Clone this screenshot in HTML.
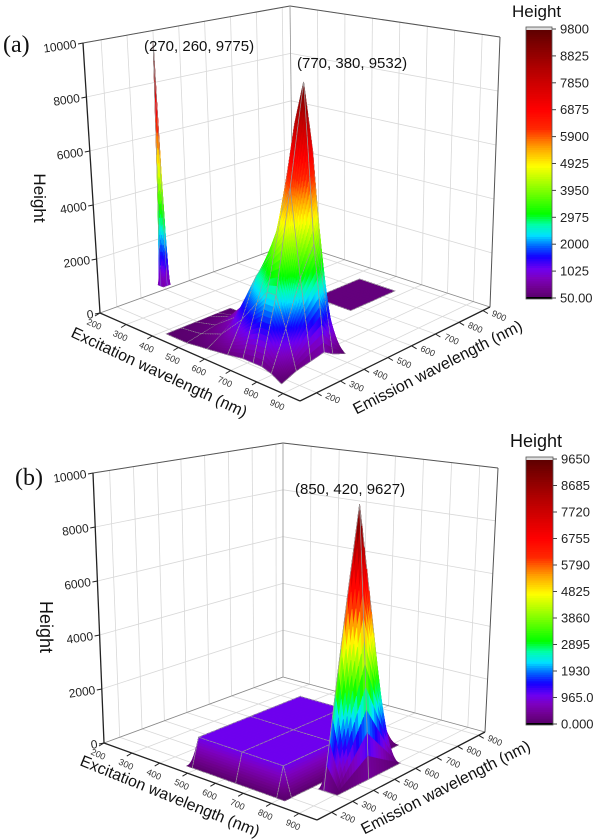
<!DOCTYPE html>
<html><head><meta charset="utf-8">
<style>
html,body{margin:0;padding:0;background:#fff;}
svg{display:block;font-family:"Liberation Sans",sans-serif;}
</style></head>
<body>
<svg id="chart" width="607" height="840" viewBox="0 0 607 840" xmlns="http://www.w3.org/2000/svg"></svg>
<script>
// ---- data ----
const exTicks=[200,300,400,500,600,700,800,900];
const emTicks=[200,300,400,500,600,700,800,900];
const hTicks=[0,2000,4000,6000,8000,10000];
const cbTicksA=["9800","8825","7850","6875","5900","4925","3950","2975","2000","1025","50.00"];
const cbTicksB=["9650","8685","7720","6755","5790","4825","3860","2895","1930","965.0","0.000"];
// panel (a) surfaces
const spikeAEx=[231,241,251];
const spikeAEm=[340,355,369];
const spikeAZ=[[500,500,500],[500,9775,500],[500,500,500]];
const peakAEx=[416,494,573,651,710,749,782,818,857];
const peakAEm=[171,233,294,350,386,438];
const peakAZ=[
 [0,0,0,0,0,0],
 [0,100,200,300,200,0],
 [100,400,800,1200,600,100],
 [200,1200,2500,3000,1500,300],
 [300,2000,3500,5000,3000,500],
 [300,2500,5000,8000,6500,800],
 [300,2500,6000,9532,7000,800],
 [200,1500,3000,4000,2500,300],
 [0,200,300,400,200,0]];
const patchAEx=[553,690];
const patchAEm=[643,828];
const patchAZ=[[150,150],[150,150]];
// panel (b) surfaces
const peakBEx=[838,857,906];
const peakBEm=[304,452,602];
const peakBZ=[[0,0,0],[0,9627,0],[0,0,0]];
const plateauBEx=[465,485,641,789,818];
const plateauBEm=[171,202,438,664,705];
const plateauBZ=[
 [0,0,0,0,0],
 [0,1000,1000,1000,0],
 [0,1000,1000,1000,0],
 [0,1000,1000,1000,0],
 [0,0,0,0,0]];

const NS="http://www.w3.org/2000/svg";
const svg=document.getElementById('chart');
function el(tag,attrs,parent,text){const e=document.createElementNS(NS,tag);for(const k in attrs)e.setAttribute(k,attrs[k]);if(text!==undefined)e.textContent=text;(parent||svg).appendChild(e);return e;}

const stopsT=[0,0.03,0.07,0.105,0.15,0.19,0.23,0.27,0.31,0.40,0.49,0.56,0.63,0.70,0.85,1];
const stopsC=[[90,0,110],[110,0,140],[125,0,190],[110,0,240],[20,0,255],[0,100,255],[0,225,255],[0,255,170],[0,255,0],[130,255,0],[255,255,0],[255,160,0],[255,40,0],[255,0,0],[180,0,0],[95,0,0]];
function cmap(t){t=Math.max(0,Math.min(1,t));for(let i=1;i<stopsT.length;i++){if(t<=stopsT[i]){const f=(t-stopsT[i-1])/(stopsT[i]-stopsT[i-1]);const a=stopsC[i-1],b=stopsC[i];return 'rgb('+a.map((v,j)=>Math.round(v+(b[j]-v)*f)).join(',')+')';}}return 'rgb(95,0,0)';}

function makePanel(c){
 const g=el('g',{});
 
 
 const exMin=200,exMax=965,emMin=130,emMax=930;
 function P(ex,em,h){
  const u=(ex-exMin)/(exMax-exMin),v=(em-emMin)/(emMax-emMin);
  const w=[(1-u)*(1-v),u*(1-v),u*v,(1-u)*v];
  const pts=[c.L,c.F,c.R,c.B],vs=[c.VL,c.VF,c.VR,c.VB];
  let x=0,y=0,vx=0,vy=0;
  for(let i=0;i<4;i++){x+=w[i]*pts[i][0];y+=w[i]*pts[i][1];vx+=w[i]*vs[i][0];vy+=w[i]*vs[i][1];}
  return [x+vx*h/10000,y+vy*h/10000];
 }
 const line=(a,b,st,sw,nm)=>{const l=el('line',{x1:a[0].toFixed(1),y1:a[1].toFixed(1),x2:b[0].toFixed(1),y2:b[1].toFixed(1),stroke:st,'stroke-width':sw},g);return l;};
 const wl=el('polygon',{points:[P(exMin,emMin,0),P(exMin,emMax,0),P(exMin,emMax,10000),P(exMin,emMin,10000)].map(p=>p.join(',')).join(' '),fill:'#fff'},g);
 
 for(const em of emTicks){line(P(exMin,em,0),P(exMin,em,10000),'#d8d8d8',0.8,'wall-grid-line');}
 for(const h of hTicks.slice(1)){line(P(exMin,emMin,h),P(exMin,emMax,h),'#d8d8d8',0.8,'wall-grid-line');line(P(exMin,emMax,h),P(exMax,emMax,h),'#d8d8d8',0.8,'wall-grid-line');}
 for(const ex of exTicks){line(P(ex,emMax,0),P(ex,emMax,10000),'#d8d8d8',0.8,'wall-grid-line');}
 for(const ex of exTicks){line(P(ex,emMin,0),P(ex,emMax,0),'#d8d8d8',0.8,'floor-grid-line');}
 for(const em of emTicks){line(P(exMin,em,0),P(exMax,em,0),'#d8d8d8',0.8,'floor-grid-line');}
 line(P(exMin,emMin,10000),P(exMin,emMax,10000),'#555',1,'wall-top-edge');
 line(P(exMin,emMax,10000),P(exMax,emMax,10000),'#555',1,'wall-top-edge');
 line(P(exMax,emMax,0),P(exMax,emMax,10000),'#555',1,'wall-side-edge');
 line(P(exMin,emMax,0),P(exMin,emMax,10000),'#999',0.8,'back-corner-edge');
 line(P(exMin,emMin,0),P(exMin,emMax,0),'#888',0.8,'floor-back-edge');
 line(P(exMin,emMax,0),P(exMax,emMax,0),'#888',0.8,'floor-back-edge');
 const items=[];const N=12;
 c.surfaces.forEach(s=>{
  for(let i=0;i<s.ex.length-1;i++)for(let j=0;j<s.em.length-1;j++){
   const z00=s.z[i][j],z10=s.z[i+1][j],z11=s.z[i+1][j+1],z01=s.z[i][j+1];
   if(z00==null||z10==null||z11==null||z01==null)continue;
   const ip=(a,b)=>{const ex=s.ex[i]+(s.ex[i+1]-s.ex[i])*a,em=s.em[j]+(s.em[j+1]-s.em[j])*b;const z=z00*(1-a)*(1-b)+z10*a*(1-b)+z11*a*b+z01*(1-a)*b;return [ex,em,z];};
   for(let a=0;a<N;a++)for(let b=0;b<N;b++){
    const q=[ip(a/N,b/N),ip((a+1)/N,b/N),ip((a+1)/N,(b+1)/N),ip(a/N,(b+1)/N)];
    const zc=(q[0][2]+q[1][2]+q[2][2]+q[3][2])/4;
    const exc=(q[0][0]+q[2][0])/2,emc=(q[0][1]+q[2][1])/2;
    const key=(exc-exMin)/(exMax-exMin)-(emc-emMin)/(emMax-emMin);
    const edges=[];
    if(a===0)edges.push([q[0],q[3]]);if(a===N-1)edges.push([q[1],q[2]]);
    if(b===0)edges.push([q[0],q[1]]);if(b===N-1)edges.push([q[3],q[2]]);
    items.push({key,q,col:cmap(zc/c.max),edges,nm:s.name});
   }
  }
 });
 items.sort((p,q)=>p.key-q.key);
 const sg=el('g',{},g);
 
 for(const it of items){
  const pp=it.q.map(v=>P(v[0],v[1],v[2]));
  const pg=el('polygon',{points:pp.map(p=>p[0].toFixed(1)+','+p[1].toFixed(1)).join(' '),fill:it.col,stroke:it.col,'stroke-width':0.6},sg);
  
  
  for(const e of it.edges){const a=P(...e[0]),b=P(...e[1]);const l=el('line',{x1:a[0].toFixed(1),y1:a[1].toFixed(1),x2:b[0].toFixed(1),y2:b[1].toFixed(1),stroke:'#9a9a9a','stroke-width':0.7},sg);
   }
 }
 line(P(exMin,emMin,0),P(exMin,emMin,10000),'#222',1.3,'height-axis-line');
 line(P(exMin,emMin,0),P(exMax,emMin,0),'#222',1.3,'excitation-axis-line');
 line(P(exMax,emMin,0),P(exMax,emMax,0),'#222',1.3,'emission-axis-line');
 for(const h of hTicks){const p=P(exMin,emMin,h);line(p,[p[0]-5,p[1]+1],'#222',1,'height-tick');
  const t=el('text',{x:(p[0]-6).toFixed(1),y:(p[1]+5).toFixed(1),'font-size':12,'text-anchor':'end',fill:'#222',transform:'rotate(-8 '+(p[0]-6).toFixed(1)+' '+(p[1]+5).toFixed(1)+')'},g,String(h));
  }
 for(const ex of exTicks){const p=P(ex,emMin,0);line(p,[p[0]-5,p[1]+3],'#222',1,'excitation-tick');
  const x=p[0]-7,y=p[1]+14;
  const t=el('text',{x:x.toFixed(1),y:y.toFixed(1),'font-size':9,'text-anchor':'middle',fill:'#333',transform:'rotate(24 '+x.toFixed(1)+' '+y.toFixed(1)+')'},g,String(ex));
  }
 for(const em of emTicks){const p=P(exMax,em,0);line(p,[p[0]+5,p[1]+3],'#222',1,'emission-tick');
  const x=p[0]+15,y=p[1]+8;
  const t=el('text',{x:x.toFixed(1),y:y.toFixed(1),'font-size':9,'text-anchor':'middle',fill:'#333',transform:'rotate(24 '+x.toFixed(1)+' '+y.toFixed(1)+')'},g,String(em));
  }
 const tx=(x,y,fs,rot,txt,nm,fam,anchor)=>{const t=el('text',{x,y,'font-size':fs,'text-anchor':anchor||'middle',fill:'#111','font-family':fam||'Liberation Sans, sans-serif',transform:rot?'rotate('+rot+' '+x+' '+y+')':''},g,txt);return t;};
 tx(c.exT[0],c.exT[1],16,c.exT[2],'Excitation wavelength (nm)','excitation-axis-title');
 tx(c.emT[0],c.emT[1],16,c.emT[2],'Emission wavelength (nm)','emission-axis-title');
 tx(c.hT[0],c.hT[1],c.hT[2],90,'Height','height-axis-title');
 tx(c.pl[0],c.pl[1],24,0,c.pl[2],'panel-label','Liberation Serif, serif','start');
 c.ann.forEach(a=>tx(a[0],a[1],15,0,a[2],'peak-annotation',null,'start'));
 const cb=c.cb;const gr=el('g',{},g);
 const steps=120;const hh=(cb.y1-cb.y0);
 for(let k=0;k<steps;k++){const t=1-(k+0.5)/steps;const r=el('rect',{x:cb.x,y:(cb.y0+hh*k/steps).toFixed(2),width:cb.w,height:(hh/steps+0.4).toFixed(2),fill:cmap(t)},gr);}
 const top=el('rect',{x:cb.x,y:cb.y0-3,width:cb.w,height:3,fill:'#ddd'},gr);
 const bot=el('rect',{x:cb.x,y:cb.y1,width:cb.w,height:2,fill:'#000'},gr);
 const fr=el('rect',{x:cb.x,y:cb.y0-3,width:cb.w,height:hh+5,fill:'none',stroke:'#555','stroke-width':0.8},gr);
 cb.labels.forEach((lb,k)=>{const y=cb.y0-1+(cb.y1-cb.y0+2)*k/(cb.labels.length-1);line([cb.x+cb.w,y],[cb.x+cb.w+4,y],'#444',1,'colorbar-tick');
  const t=el('text',{x:cb.x+cb.w+8,y:(y+4.5).toFixed(1),'font-size':13,fill:'#222'},gr,lb);});
 const ct=el('text',{x:cb.tx,y:cb.ty,'font-size':cb.tfs,fill:'#111'},gr,'Height');
}

makePanel({name:'panel-a',max:9800,
 L:[100,313],F:[300,401],R:[490,307],B:[293,243],
 VL:[-17,-270],VF:[0,-305],VR:[10,-270],VB:[-3,-237],
 surfaces:[{name:'spike-a',ex:spikeAEx,em:spikeAEm,z:spikeAZ},{name:'peak-a',ex:peakAEx,em:peakAEm,z:peakAZ},{name:'patch-a',ex:patchAEx,em:patchAEm,z:patchAZ}],
 exT:[157,377,25],emT:[440,372,-27],hT:[34,198,17],pl:[3,52,'(a)'],
 ann:[[144,51,'(270, 260, 9775)'],[297,68,'(770, 380, 9532)']],
 cb:{x:526,y0:30,y1:297,w:26,labels:cbTicksA,tx:512,ty:17,tfs:17}});
makePanel({name:'panel-b',max:9650,
 L:[104,743],F:[317,820],R:[485,732],B:[283,677],
 VL:[-11,-270],VF:[2,-300],VR:[13,-264],VB:[0,-234],
 surfaces:[{name:'plateau-b',ex:plateauBEx,em:plateauBEm,z:plateauBZ},{name:'peak-b',ex:peakBEx,em:peakBEm,z:peakBZ}],
 exT:[168,801,22],emT:[448,792,-27],hT:[40,627,18],pl:[15,485,'(b)'],
 ann:[[295,494,'(850, 420, 9627)']],
 cb:{x:526,y0:460,y1:723,w:27,labels:cbTicksB,tx:510,ty:447,tfs:18}});
</script>
</body></html>
